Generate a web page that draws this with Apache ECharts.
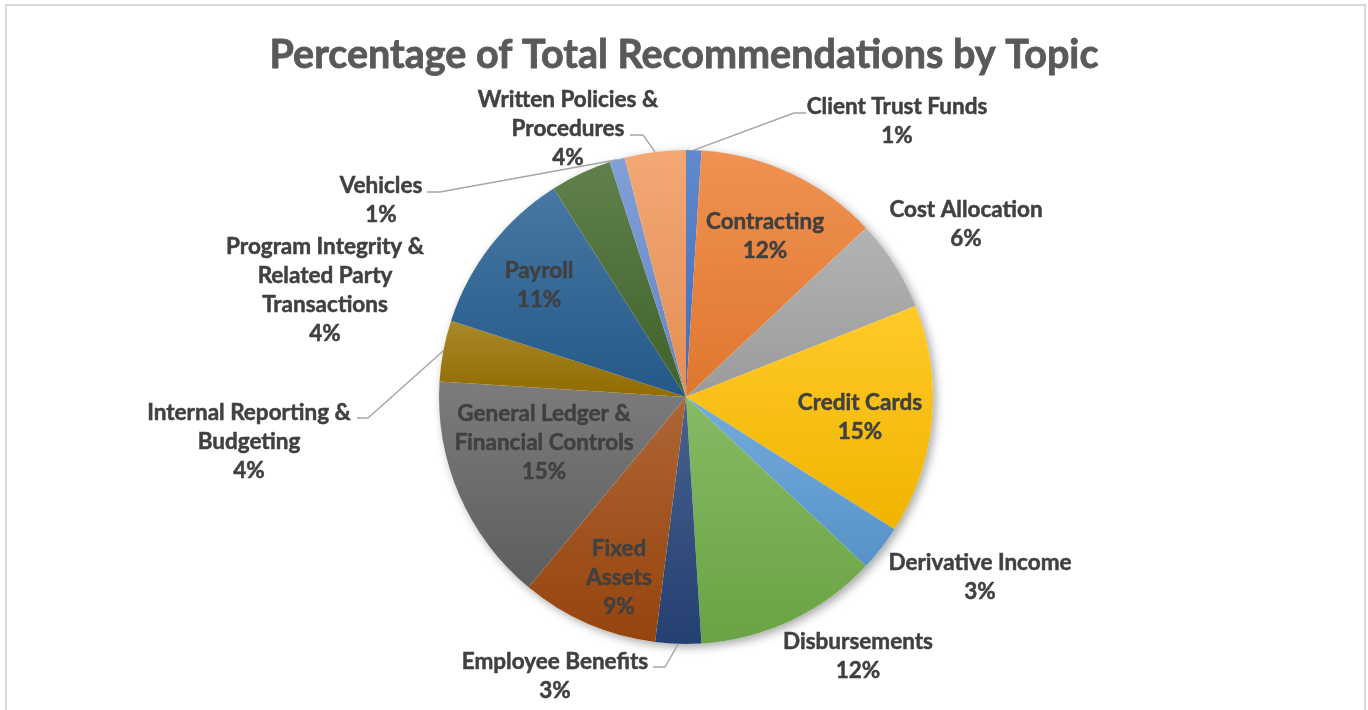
<!DOCTYPE html>
<html>
<head>
<meta charset="utf-8">
<title>Percentage of Total Recommendations by Topic</title>
<script src="https://cdn.jsdelivr.net/npm/echarts@6/dist/echarts.min.js"></script>
<style>
  html, body { margin: 0; padding: 0; background: #ffffff; }
  #chart { width: 1368px; height: 710px; }
</style>
</head>
<body>
<div id="chart"></div>
<script>
// Topic categories, clockwise from 12 o'clock
const topics = [
  'Client Trust Funds',
  'Contracting',
  'Cost Allocation',
  'Credit Cards',
  'Derivative Income',
  'Disbursements',
  'Employee Benefits',
  'Fixed Assets',
  'General Ledger & Financial Controls',
  'Internal Reporting & Budgeting',
  'Payroll',
  'Program Integrity & Related Party Transactions',
  'Vehicles',
  'Written Policies & Procedures'
];

// Share of all recommendations, in percent
const shares = [1, 12, 6, 15, 3, 12, 3, 9, 15, 4, 11, 4, 1, 4];

// Slice colours (Office palette with its darker / lighter variants)
const palette = [
  '#4472C4', '#ED7D31', '#A5A5A5', '#FFC000', '#5B9BD5', '#70AD47', '#264478',
  '#9E480E', '#636363', '#997300', '#255E91', '#43682B', '#698ED0', '#F1975A'
];

// Label placement: block centre, words per line, inside/outside, leader line elbow + end
const labelPlacement = [
  { x: 897, y: 121, words: null, pos: 'outside', lead: [[794, 113], [806, 113]] },
  { x: 765, y: 236, words: null, pos: 'inside' },
  { x: 966, y: 224, words: null, pos: 'outside' },
  { x: 860, y: 417, words: null, pos: 'inside' },
  { x: 980, y: 577, words: null, pos: 'outside' },
  { x: 858, y: 656, words: null, pos: 'outside' },
  { x: 555, y: 676, words: null, pos: 'outside', lead: [[665, 667], [653, 667]] },
  { x: 619, y: 578, words: [1, 1], pos: 'inside' },
  { x: 544, y: 443, words: [3, 2], pos: 'inside' },
  { x: 249, y: 442, words: [3, 1], pos: 'outside', lead: [[368, 418], [357, 418]] },
  { x: 539, y: 285, words: null, pos: 'inside' },
  { x: 325, y: 290, words: [3, 2, 1], pos: 'outside' },
  { x: 381, y: 200, words: null, pos: 'outside', lead: [[440, 192], [427, 192]] },
  { x: 568, y: 129, words: [3, 1], pos: 'outside', lead: [[643, 135], [630, 135]] }
];

const PIE_CENTER = [686, 397];
const PIE_RADIUS = 247;
const FONT = 'Lato, "Open Sans", sans-serif';
const TEXT_COLOR = '#404040';

function wrapName(name, words) {
  if (!words) return name;
  const parts = name.split(' ');
  const lines = [];
  let i = 0;
  words.forEach(function (n) {
    lines.push(parts.slice(i, i + n).join(' '));
    i += n;
  });
  return lines.join('\n');
}

function mix(hex, target, t) {
  const h = hex.replace('#', '');
  const r = parseInt(h.substr(0, 2), 16);
  const g = parseInt(h.substr(2, 2), 16);
  const b = parseInt(h.substr(4, 2), 16);
  const m = function (c) { return Math.round(c + (target - c) * t); };
  return 'rgb(' + m(r) + ',' + m(g) + ',' + m(b) + ')';
}

function sliceFill(hex) {
  return new echarts.graphic.LinearGradient(0, 0, 0, 1, [
    { offset: 0, color: mix(hex, 255, 0.16) },
    { offset: 1, color: mix(hex, 0, 0.06) }
  ]);
}

const total = shares.reduce(function (a, b) { return a + b; }, 0);

const sliceData = topics.map(function (name, i) {
  const place = labelPlacement[i];
  return {
    name: name,
    value: shares[i],
    itemStyle: { color: sliceFill(palette[i]) },
    label: { position: place.pos },
    labelLine: { show: !!place.lead }
  };
});

const chart = echarts.init(document.getElementById('chart'), null, { renderer: 'canvas' });

chart.setOption({
  backgroundColor: '#ffffff',
  animation: false,
  title: {
    text: 'Percentage of Total Recommendations by Topic',
    left: 'center',
    top: 30,
    textStyle: {
      fontFamily: FONT,
      fontWeight: 'bold',
      fontSize: 39.5,
      color: '#595959',
      textBorderColor: '#595959',
      textBorderWidth: 0.8
    }
  },
  graphic: [{
    type: 'rect',
    silent: true,
    shape: { x: 6, y: 5, width: 1359, height: 760 },
    style: { fill: 'none', stroke: '#D9D9D9', lineWidth: 2 }
  }],
  series: [
    {
      // soft drop shadow beneath the whole pie
      type: 'pie',
      silent: true,
      z: 1,
      center: PIE_CENTER,
      radius: PIE_RADIUS,
      label: { show: false },
      labelLine: { show: false },
      data: [{ value: total, name: 'all' }],
      itemStyle: {
        color: '#ffffff',
        shadowBlur: 10,
        shadowColor: 'rgba(0,0,0,0.35)',
        shadowOffsetX: 3,
        shadowOffsetY: 3
      }
    },
    {
      type: 'pie',
      z: 2,
      center: PIE_CENTER,
      radius: PIE_RADIUS,
      startAngle: 90,
      clockwise: true,
      avoidLabelOverlap: false,
      itemStyle: { borderWidth: 0 },
      label: {
        show: true,
        fontFamily: FONT,
        fontWeight: 'bold',
        fontSize: 22.5,
        lineHeight: 29,
        color: TEXT_COLOR,
        textBorderColor: TEXT_COLOR,
        textBorderWidth: 0.5,
        align: 'center',
        formatter: function (p) {
          return wrapName(p.name, labelPlacement[p.dataIndex].words) + '\n' + p.value + '%';
        }
      },
      labelLine: {
        lineStyle: { color: '#A6A6A6', width: 1.4 },
        length: 20,
        length2: 12
      },
      labelLayout: function (p) {
        const place = labelPlacement[p.dataIndex];
        const out = { x: place.x, y: place.y, align: 'center', verticalAlign: 'middle' };
        if (place.lead && p.labelLinePoints) {
          out.labelLinePoints = [p.labelLinePoints[0], place.lead[0], place.lead[1]];
        }
        return out;
      },
      data: sliceData
    }
  ]
});
</script>
</body>
</html>
